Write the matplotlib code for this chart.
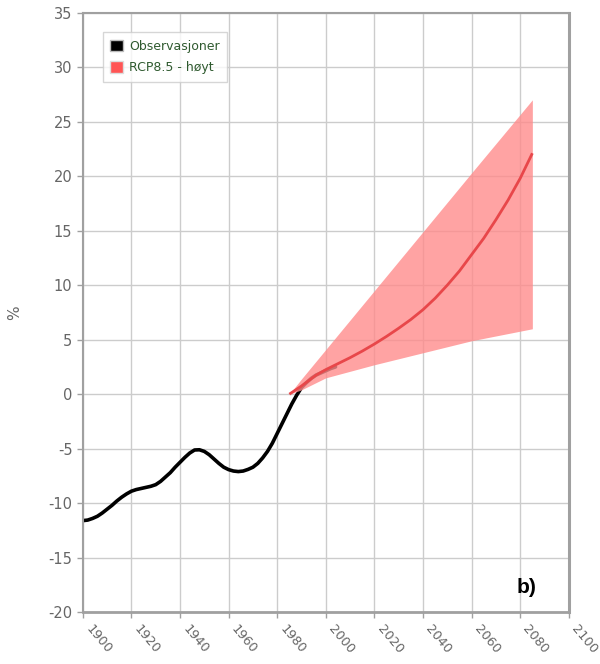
import matplotlib
matplotlib.use("Agg")
import matplotlib.pyplot as plt
from matplotlib.patches import Patch

plt.rcParams["axes.unicode_minus"] = False

# Observations
obs_years = [1900, 1902, 1904, 1906, 1908, 1910, 1912, 1914, 1916, 1918, 1920, 1922, 1924, 1926,
             1928, 1930, 1932, 1934, 1936, 1938, 1940, 1942, 1944, 1946, 1948, 1950, 1952, 1954,
             1956, 1958, 1960, 1962, 1964, 1966, 1968, 1970, 1972, 1974, 1976, 1978, 1980, 1982,
             1984, 1986, 1988, 1990, 1992, 1994, 1996, 1998, 2000, 2002, 2004]
obs_vals = [-11.6, -11.55, -11.4, -11.2, -10.9, -10.55, -10.2, -9.8, -9.45, -9.15, -8.9, -8.75,
            -8.65, -8.55, -8.45, -8.3, -8.0, -7.6, -7.2, -6.7, -6.25, -5.8, -5.4, -5.12, -5.1,
            -5.25, -5.55, -5.95, -6.35, -6.7, -6.92, -7.05, -7.1, -7.05, -6.9, -6.7, -6.35,
            -5.85, -5.25, -4.5, -3.6, -2.7, -1.8, -0.9, -0.1, 0.6, 1.05, 1.45, 1.75, 1.95,
            2.15, 2.35, 2.5]

# RCP8.5 median
rcp_years = [1985, 1987, 1990, 1993, 1996, 2000, 2005, 2010, 2015, 2020, 2025, 2030, 2035, 2040,
             2045, 2050, 2055, 2060, 2065, 2070, 2075, 2080, 2085]
rcp_vals = [0.0, 0.3, 0.75, 1.25, 1.75, 2.25, 2.8, 3.35, 3.95, 4.6, 5.3, 6.05, 6.85, 7.75,
            8.8, 10.0, 11.3, 12.8, 14.3, 16.0, 17.8, 19.8, 22.1]

# RCP8.5 range
band_years = [1985, 1990, 2000, 2020, 2040, 2060, 2085]
band_low = [0.0, 0.4, 1.5, 2.7, 3.8, 4.9, 6.0]
band_high = [0.0, 1.4, 4.1, 9.5, 14.9, 20.3, 27.0]

xticks = list(range(1900, 2101, 20))
yticks = list(range(-20, 36, 5))

fig = plt.figure(figsize=(6.0, 6.64), dpi=100)
ax = fig.add_axes([0.138, 0.078, 0.810, 0.903])

ax.plot(obs_years, obs_vals, color="black", linewidth=2.6, zorder=2,
        solid_joinstyle="round", solid_capstyle="round")
ax.fill_between(band_years, band_low, band_high, color="#ff8c8c", alpha=0.8, linewidth=0, zorder=3)
ax.plot(rcp_years, rcp_vals, color="#e8474a", linewidth=2.0, zorder=4,
        solid_joinstyle="round", solid_capstyle="butt")

ax.set_xlim(1900, 2100)
ax.set_ylim(-20, 35)
ax.set_xticks(xticks)
ax.set_yticks(yticks)
ax.grid(True, color="#cccccc", linewidth=1.0, zorder=0)
ax.set_axisbelow(True)

for s in ["left", "bottom", "top", "right"]:
    ax.spines[s].set_color("#a0a0a0")
    ax.spines[s].set_linewidth(1.5)
ax.spines["right"].set_linewidth(2.2)
ax.spines["bottom"].set_linewidth(2.0)

ax.tick_params(axis="both", colors="#a0a0a0", labelcolor="#666666", labelsize=10.5, length=4, width=1)
ax.set_xticklabels([str(x) for x in xticks], rotation=-50, ha="left", va="top",
                   rotation_mode="default", fontsize=9.3, color="#666666")
ax.set_ylabel("%", color="#666666", fontsize=11)
ax.yaxis.set_label_coords(-0.125, 0.5)

handles = [Patch(facecolor="black", edgecolor="#bbbbbb", label="Observasjoner"),
           Patch(facecolor="#ff5555", edgecolor="#dddddd", label="RCP8.5 - høyt")]
leg = ax.legend(handles=handles, loc="upper left", bbox_to_anchor=(0.028, 0.978),
                handlelength=1.0, handleheight=1.0, handletextpad=0.5, fontsize=9,
                frameon=True, fancybox=False, edgecolor="#cccccc", borderpad=0.6,
                labelspacing=0.7)
leg.get_frame().set_linewidth(1.0)
for t in leg.get_texts():
    t.set_color("#2f5a2f")

ax.text(0.914, 0.042, "b)", transform=ax.transAxes, fontsize=15, fontweight="bold",
        color="black", ha="center", va="center", family="Liberation Sans")

fig.savefig("out.png", dpi=100)
